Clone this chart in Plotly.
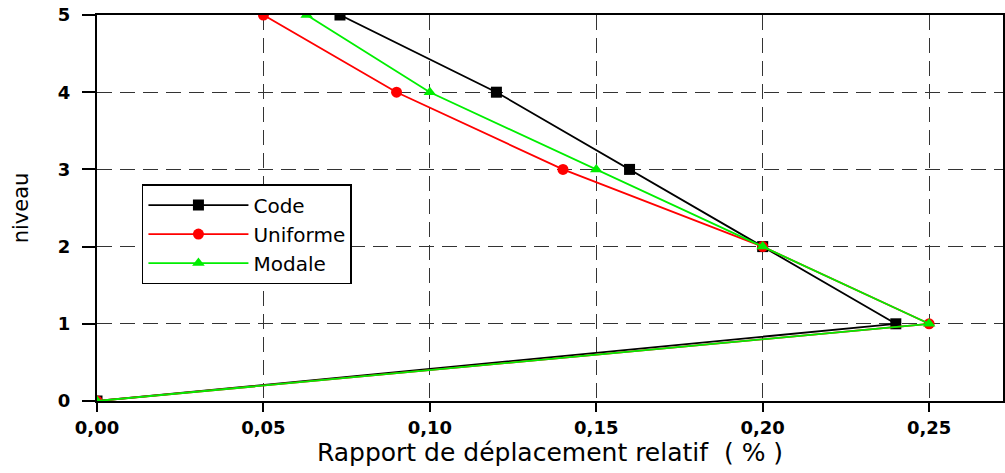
import plotly.graph_objects as go

niveau = [0, 1, 2, 3, 4, 5]
code = [0.0, 0.24, 0.20, 0.16, 0.12, 0.073]
uniforme = [0.0, 0.25, 0.20, 0.14, 0.09, 0.05]
modale = [0.0, 0.25, 0.20, 0.15, 0.10, 0.063]

x_tickvals = [0.0, 0.05, 0.10, 0.15, 0.20, 0.25]
x_ticktext = ["0,00", "0,05", "0,10", "0,15", "0,20", "0,25"]
y_tickvals = [0, 1, 2, 3, 4, 5]

series = [
    ("Code", code, "black", "square"),
    ("Uniforme", uniforme, "#ff0000", "circle"),
    ("Modale", modale, "#00ee00", "triangle-up"),
]

fig = go.Figure()
for name, xs, col, sym in series:
    fig.add_trace(go.Scatter(
        x=xs, y=niveau, name=name, mode="lines+markers",
        line=dict(color=col, width=1.8),
        marker=dict(symbol=sym, size=11, color=col),
        cliponaxis=True,
    ))

tick_font = dict(family="DejaVu Sans", size=18, color="black", weight="bold")

fig.update_layout(
    width=1005, height=473,
    margin=dict(l=97, r=0, t=15, b=72),
    paper_bgcolor="white", plot_bgcolor="white",
    showlegend=True,
    legend=dict(
        x=0.0496, y=0.562, xanchor="left", yanchor="top",
        bgcolor="white", bordercolor="black", borderwidth=1.5,
        font=dict(family="DejaVu Sans", size=20, color="black"),
        itemwidth=100, tracegroupgap=0,
    ),
)

fig.update_xaxes(
    range=[0, 0.2722], tickvals=x_tickvals, ticktext=x_ticktext,
    showline=True, linecolor="black", linewidth=2, mirror=True,
    ticks="outside", ticklen=9, tickwidth=2, tickcolor="black",
    showgrid=True, gridcolor="#333333", gridwidth=1.3, griddash="15px,8px",
    zeroline=False, tickfont=tick_font,
    title=dict(text="Rapport de déplacement relatif  ( % )",
               font=dict(family="DejaVu Sans", size=25, color="black"), standoff=7),
)
fig.update_yaxes(
    range=[0, 5], tickvals=y_tickvals,
    showline=True, linecolor="black", linewidth=2, mirror=True,
    ticks="outside", ticklen=13, tickwidth=2, tickcolor="black",
    showgrid=True, gridcolor="#333333", gridwidth=1.3, griddash="15px,8px",
    zeroline=False, tickfont=tick_font, ticklabelstandoff=8,
    title=dict(text="niveau", font=dict(family="DejaVu Sans", size=21, color="black"), standoff=24),
)

fig.write_html("out.html")
